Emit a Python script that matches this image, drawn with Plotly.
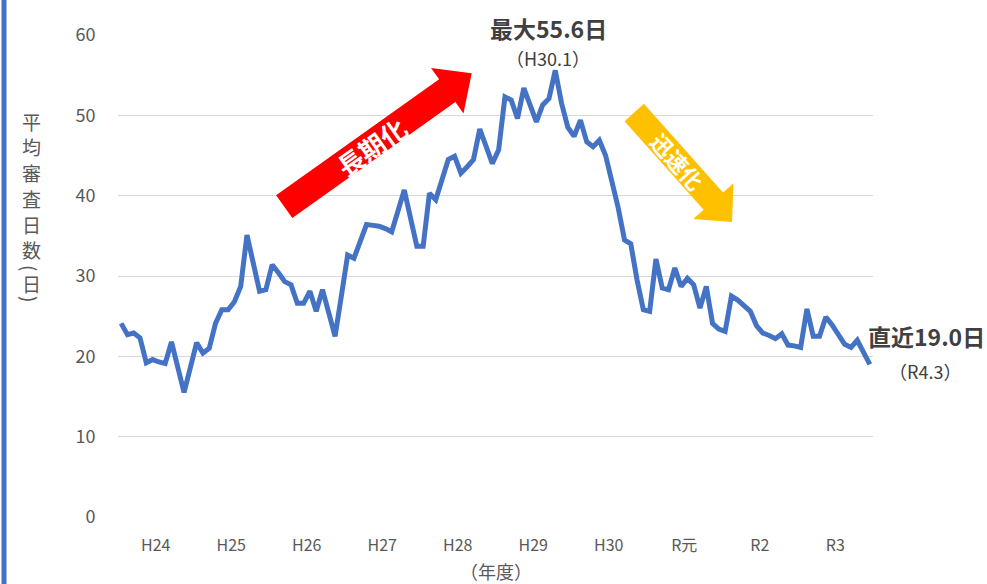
import math
import plotly.graph_objects as go

# ---- data (monthly average examination days, H24.4 - R4.3) ----
months = list(range(120))
avg_days = [
    24.1, 22.7, 22.9, 22.3, 19.2, 19.6, 19.3, 19.1, 21.8, 18.6, 15.5, 18.6,
    21.7, 20.4, 21.0, 24.1, 25.8, 25.8, 26.8, 28.7, 35.1, 31.6, 28.1, 28.3,
    31.4, 30.4, 29.3, 28.9, 26.6, 26.6, 28.1, 25.6, 28.3, 25.4, 22.5, 27.5,
    32.6, 32.2, 34.4, 36.4, 36.3, 36.2, 35.9, 35.5, 38.1, 40.7, 37.2, 33.7,
    33.7, 40.3, 39.5, 42.0, 44.5, 44.9, 42.8, 43.6, 44.5, 48.3, 46.1, 44.0,
    45.7, 52.3, 51.9, 49.6, 53.4, 51.3, 49.2, 51.3, 52.1, 55.6, 51.5, 48.5,
    47.4, 49.4, 46.7, 46.1, 46.9, 45.0, 42.0, 38.5, 34.5, 34.0, 29.5, 25.8,
    25.6, 32.1, 28.5, 28.3, 31.0, 28.7, 29.7, 28.9, 26.0, 28.7, 24.1, 23.4,
    23.1, 27.5, 27.0, 26.3, 25.6, 23.8, 22.9, 22.6, 22.2, 22.8, 21.4, 21.3,
    21.1, 25.9, 22.5, 22.5, 24.9, 23.9, 22.8, 21.5, 21.1, 22.0, 20.5, 19.0,
]
year_labels = ["H24", "H25", "H26", "H27", "H28", "H29", "H30", "R元", "R2", "R3"]
year_tick_pos = [i * 12 + 5.5 for i in range(len(year_labels))]
y_ticks = [0, 10, 20, 30, 40, 50, 60]

# ---- layout geometry (pixels) ----
W, H = 987, 584
L, R, T, B = 118, 873, 35, 517
FONT = "Noto Sans CJK JP"


def px(x):
    return (x - L) / (R - L)


def py(y):
    return (B - y) / (B - T)


def arrow_path(tail, tip, w, h, hl):
    tx, ty = tail
    qx, qy = tip
    d = math.hypot(qx - tx, qy - ty)
    ux, uy = (qx - tx) / d, (qy - ty) / d
    nx, ny = -uy, ux
    bx, by = qx - hl * ux, qy - hl * uy
    pts = [
        (tx + w * nx, ty + w * ny),
        (bx + w * nx, by + w * ny),
        (bx + h * nx, by + h * ny),
        (qx, qy),
        (bx - h * nx, by - h * ny),
        (bx - w * nx, by - w * ny),
        (tx - w * nx, ty - w * ny),
    ]
    return "M " + " L ".join(f"{px(a):.5f},{py(b):.5f}" for a, b in pts) + " Z"


fig = go.Figure()
fig.add_trace(go.Scatter(
    x=months, y=avg_days, mode="lines",
    line=dict(color="#4472C4", width=5),
    hoverinfo="skip", showlegend=False,
))

shapes = [
    dict(type="rect", xref="paper", yref="paper",
         x0=px(1.5), x1=px(6.5), y0=py(H), y1=py(0),
         fillcolor="#4472C4", line=dict(width=0), layer="above"),
    dict(type="path", xref="paper", yref="paper",
         path=arrow_path((284.2, 206.7), (471.7, 73.3), 14, 28, 30),
         fillcolor="#FF0000", line=dict(width=0), layer="above"),
    dict(type="path", xref="paper", yref="paper",
         path=arrow_path((634.2, 112.5), (732, 222), 13, 27, 28),
         fillcolor="#FFC000", line=dict(width=0), layer="above"),
]

ann = []


def add_text(x, y, text, size, color="#404040", bold=False, angle=0):
    ann.append(dict(
        xref="paper", yref="paper", x=px(x), y=py(y),
        text=f"<b>{text}</b>" if bold else text,
        showarrow=False, xanchor="center", yanchor="middle",
        textangle=angle,
        font=dict(family=FONT, size=size, color=color),
    ))


add_text(548, 28, "最大55.6日", 23, "#404040", bold=True)
add_text(548, 58, "（H30.1）", 18, "#404040")
add_text(926, 336, "直近19.0日", 23, "#404040", bold=True)
add_text(925, 371, "（R4.3）", 18, "#404040")
add_text(371, 146, "長期化", 26, "white", bold=True, angle=-35.4)
add_text(678, 161, "迅速化", 22, "white", bold=True, angle=48.3)
add_text(496, 571, "（年度）", 18, "#595959")

# vertical y-axis title (stacked characters)
title_chars = ["平", "均", "審", "査", "日", "数", "(", "日", ")"]
title_ys = [121, 147, 172, 198, 224, 250, 268, 283, 299]
title_angles = [0, 0, 0, 0, 0, 0, 90, 0, 90]
for ch, yy, ag in zip(title_chars, title_ys, title_angles):
    add_text(31, yy, ch, 19, "#595959", angle=ag)

fig.update_layout(
    width=W, height=H,
    margin=dict(l=L, r=W - R, t=T, b=H - B),
    paper_bgcolor="white", plot_bgcolor="white",
    showlegend=False,
    shapes=shapes, annotations=ann,
    font=dict(family=FONT, color="#595959"),
)
fig.update_xaxes(
    range=[-0.5, 119.5], tickmode="array",
    tickvals=year_tick_pos, ticktext=year_labels,
    showgrid=False, zeroline=False, showline=False,
    ticks="outside", ticklen=14, tickcolor="rgba(0,0,0,0)",
    tickfont=dict(family=FONT, size=16, color="#595959"),
)
fig.update_yaxes(
    range=[0, 60], tickmode="array", tickvals=y_ticks,
    showgrid=True, gridcolor="#D9D9D9", gridwidth=1.3,
    zeroline=False, showline=False,
    ticks="outside", ticklen=18, tickcolor="rgba(0,0,0,0)",
    tickfont=dict(family=FONT, size=18, color="#595959"),
)

fig.write_html(
    "out.html",
    config={"displayModeBar": False},
    post_script="document.body.style.margin='0';document.body.style.overflow='hidden';",
)
